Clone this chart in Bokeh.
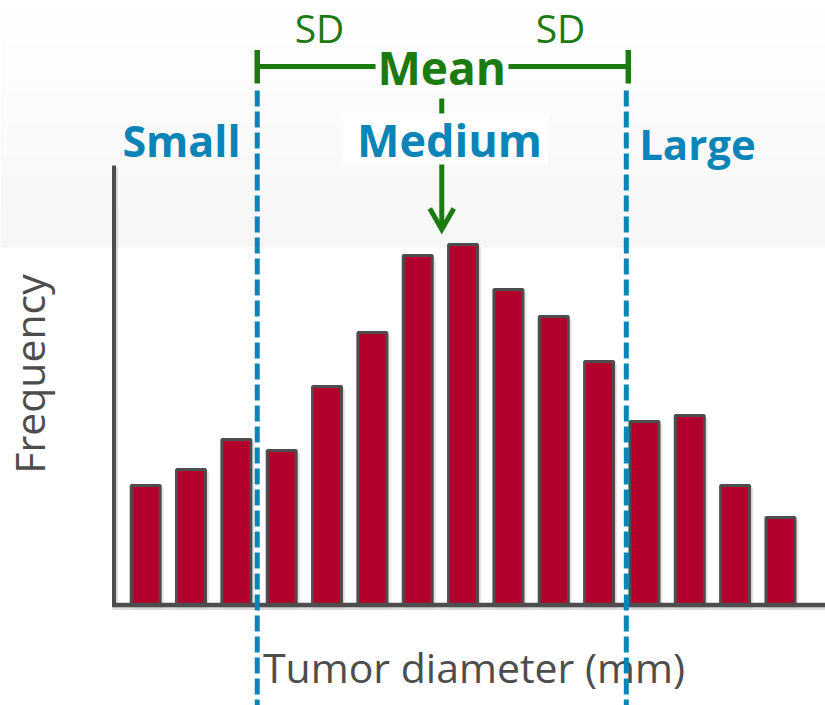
from bokeh.plotting import figure
from bokeh.embed import file_html
from bokeh.resources import INLINE
from bokeh.core.properties import value
import numpy as np

# ---------------- data ----------------
bins = list(range(15))                      # tumor-diameter bins (index)
frequency = [12.0, 13.6, 16.6, 15.5, 21.9, 27.3, 35.0, 36.1,
             31.6, 28.9, 24.4, 18.4, 19.0, 12.0, 8.8]
mean_bin = 6.53
sd_bin = 4.07
group_labels = ["Small", "Medium", "Large"]

# ---------------- layout helpers (reference pixel -> data) ----------------
W, H = 825, 705
PX_X = 45.34          # px per bin
X0 = 145.2            # ref px of bin 0 centre
PX_Y = 10.0           # px per frequency unit
Y0 = 605.0            # ref px of baseline
BL = 0.4              # baseline correction (fraction of font size)


def X(px):
    return (px - X0) / PX_X


def Y(py):
    return (Y0 - py) / PX_Y


p = figure(width=W, height=H,
           x_range=(X(0), X(W)), y_range=(Y(H), Y(0)),
           x_axis_type=None, y_axis_type=None,
           min_border=0, toolbar_location=None, output_backend="svg",
           outline_line_color=None, background_fill_color="white",
           border_fill_color="white")
p.grid.visible = False

GREEN = "#1B7A10"
BLUE = "#0B84B8"
DARK = "#4D4D4D"
FONT = value("Open Sans")

# top gradient band (white -> light grey)
n = 24
edges = np.linspace(0, 247, n + 1)
cols = []
for i in range(n):
    t = (i + 0.5) / n
    g = int(round(255 - t * 9))
    cols.append("#%02x%02x%02x" % (g, g, g))
p.quad(left=X(0), right=X(W), top=[Y(e) for e in edges[:-1]],
       bottom=[Y(e) for e in edges[1:]], fill_color=cols, line_color=None)

lo = mean_bin - sd_bin
hi = mean_bin + sd_bin
bw = 0.64

# bar shadows
p.vbar(x=[b + 2.5 / PX_X for b in bins], top=[f - 0.25 for f in frequency],
       bottom=-0.3, width=bw + 0.05, fill_color="#9a9a9a", fill_alpha=0.25,
       line_color=None)

# bars
p.vbar(x=bins, top=frequency, bottom=0, width=bw,
       fill_color="#B3002D", line_color=DARK, line_width=3)

# axes lines (with light shadow)
p.segment(x0=X(113.5) + 2 / PX_X, y0=Y(165) - 0.2, x1=X(113.5) + 2 / PX_X, y1=-0.2,
          line_color="#bbbbbb", line_width=4, line_alpha=0.5)
p.segment(x0=X(112), y0=-0.25, x1=X(W), y1=-0.25,
          line_color="#bbbbbb", line_width=4, line_alpha=0.5)
p.segment(x0=X(113.5), y0=Y(165), x1=X(113.5), y1=Y(606.5),
          line_color=DARK, line_width=4)
p.segment(x0=X(111.5), y0=Y(604.5), x1=X(W), y1=Y(604.5),
          line_color=DARK, line_width=4.5)

# axis titles (drawn under the dashed lines, as in the reference)
p.text(x=[X(45 - BL * 41)], y=[Y(373.5)], text=["Frequency"], angle=np.pi / 2,
       text_font=FONT, text_font_size="41px", text_color=DARK,
       text_align="center", text_baseline="alphabetic")
p.text(x=[X(473.5)], y=[Y(683 - BL * 41)], text=["Tumor diameter (mm)"],
       text_font=FONT, text_font_size="41px", text_color=DARK,
       text_align="center", text_baseline="alphabetic")

# dashed SD boundaries
for xb in (lo, hi):
    p.segment(x0=xb, y0=Y(90), x1=xb, y1=Y(H + 5),
              line_color=BLUE, line_width=5, line_dash="16 5")

# green bracket
p.segment(x0=[lo, X(508)], y0=Y(66), x1=[X(375), hi + 2 / PX_X], y1=Y(66),
          line_color=GREEN, line_width=5)
p.segment(x0=[lo, hi + 2 / PX_X], y0=Y(49.5), x1=[lo, hi + 2 / PX_X], y1=Y(83),
          line_color=GREEN, line_width=5.5)

# arrow from mean down to the peak
p.segment(x0=mean_bin, y0=Y(98), x1=mean_bin, y1=Y(228),
          line_color=GREEN, line_width=5)
p.line(x=[mean_bin - 12 / PX_X, mean_bin, mean_bin + 12 / PX_X],
       y=[Y(208), Y(229), Y(208)], line_color=GREEN, line_width=5,
       line_join="miter")

# white box behind "Medium"
p.quad(left=X(342), right=X(548), top=Y(113), bottom=Y(164),
       fill_color="white", line_color=None)

# annotation texts
p.text(x=[X(319), X(560)], y=Y(43 - BL * 39), text=["SD", "SD"], text_font=FONT,
       text_font_size="39px", text_color=GREEN, text_align="center",
       text_baseline="alphabetic")
p.text(x=[mean_bin], y=[Y(85 - BL * 46)], text=["Mean"], text_font=FONT,
       text_font_size="46px", text_font_style="bold", text_color=GREEN,
       text_align="center", text_baseline="alphabetic")
for lab, cx, by, fs in zip(group_labels, (181, 449, 697), (157, 157, 160),
                           (43, 45, 42)):
    p.text(x=[X(cx)], y=[Y(by - BL * fs)], text=[lab], text_font=FONT,
           text_font_size="%dpx" % fs, text_font_style="bold", text_color=BLUE,
           text_align="center", text_baseline="alphabetic")

open("out.html", "w").write(file_html(p, INLINE))
